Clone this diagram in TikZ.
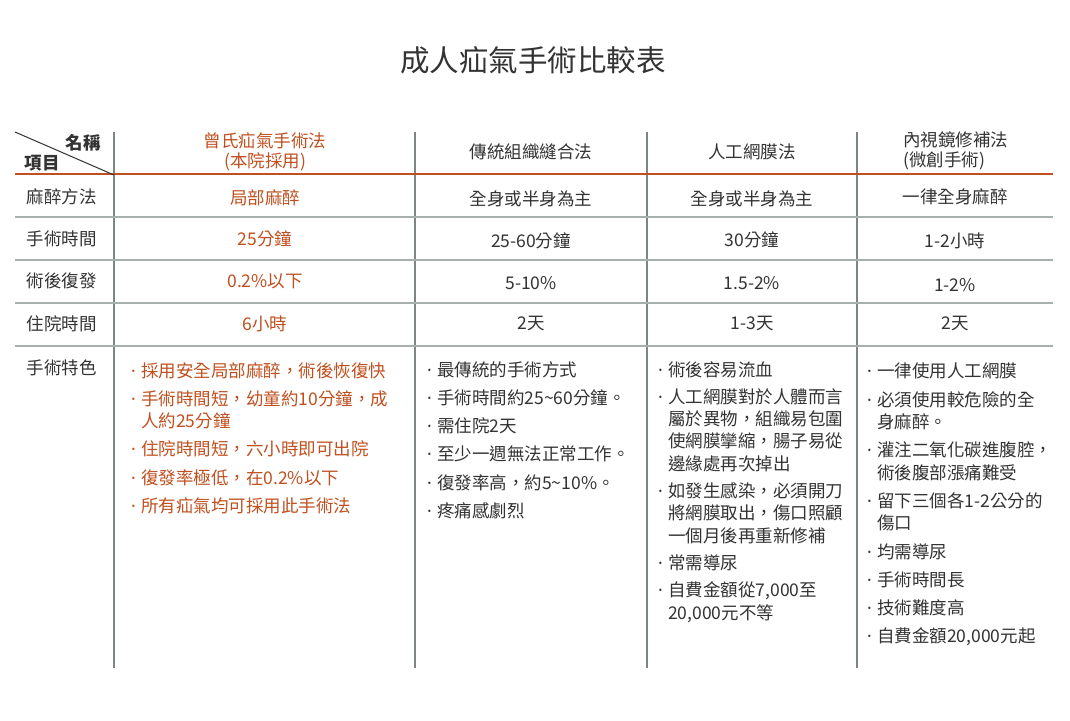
\documentclass[tikz,border=0pt]{standalone}
\usepackage{fontspec}
\setmainfont{Noto Sans CJK TC}
\newfontfamily\latinfont{Noto Sans}
\usetikzlibrary{positioning}
\definecolor{hot}{HTML}{C0501F}
\definecolor{ink}{HTML}{333333}
\definecolor{rulegray}{HTML}{A9AFAF}
\definecolor{colgray}{HTML}{7D8585}
\tikzstyle{txt}=[inner sep=0pt,text=ink,font=\fontsize{17.5}{20}\selectfont]
\tikzstyle{hottxt}=[txt,text=hot]
\tikzstyle{list}=[txt,anchor=north west,align=left,font=\fontsize{17.5}{22.3}\selectfont]
\tikzstyle{hline}=[draw=rulegray,line width=2pt]
\tikzstyle{vline}=[draw=colgray,line width=1.2pt]
\newcommand*{\bul}{\makebox[10pt][l]{\latinfont ·}}
\newcommand*{\ind}{\hspace*{10pt}}

\begin{document}
\begin{tikzpicture}[x=1pt,y=-1pt]
  \useasboundingbox[fill=white] (0,0) rectangle (1070,720);
  % title
  \node[txt,font=\fontsize{29.5}{32}\selectfont] (title) at (533,60) {成人疝氣手術比較表};
  % grid
  \foreach \x in {114,415,647,857} {
    \draw[vline] (\x,132) -- (\x,668);
  }
  \foreach \y in {217,260,303,346} {
    \draw[hline] (15,\y) -- (1053,\y);
  }
  \draw[draw=hot,line width=2.5pt] (15,174) -- (1053,174);
  \draw[draw=ink,line width=1pt] (15,132) -- (114,175);
  % header row
  \node[txt,font=\fontsize{17.5}{20}\selectfont\bfseries] (name) at (83,143) {名稱};
  \node[txt,font=\fontsize{17.5}{20}\selectfont\bfseries] (item) at (42,163) {項目};
  \node[hottxt,align=center] (h1) at (265,152) {曾氏疝氣手術法\\(本院採用)};
  \node[txt] (h2) at (531,152) {傳統組織縫合法};
  \node[txt] (h3) at (752,152) {人工網膜法};
  \node[txt,anchor=west,align=left] (h4) at (903,151) {內視鏡修補法\\(微創手術)};
  % row labels
  \foreach \lbl/\y [count=\i] in {麻醉方法/197,手術時間/239,術後復發/281,住院時間/324,手術特色/368} {
    \node[txt] (row\i) at (62,\y) {\lbl};
  }
  % rows
  \node[hottxt] (c11) at (265,198) {局部麻醉};
  \node[txt] (c12) at (531,199) {全身或半身為主};
  \node[txt] (c13) at (752,199) {全身或半身為主};
  \node[txt] (c14) at (955,197) {一律全身麻醉};
  \node[hottxt] (c21) at (265,239) {25分鐘};
  \node[txt] (c22) at (531,241) {25-60分鐘};
  \node[txt] (c23) at (752,240) {30分鐘};
  \node[txt] (c24) at (955,241) {1-2小時};
  \node[hottxt] (c31) at (265,281) {0.2\%以下};
  \node[txt] (c32) at (531,283) {5-10\%};
  \node[txt] (c33) at (752,283) {1.5-2\%};
  \node[txt] (c34) at (955,285) {1-2\%};
  \node[hottxt] (c41) at (265,324) {6小時};
  \node[txt] (c42) at (531,324) {2天};
  \node[txt] (c43) at (752,324) {1-3天};
  \node[txt] (c44) at (955,324) {2天};
  % features
  \node[list,text=hot] (feat1) at (131,362) {\bul 採用安全局部麻醉，術後恢復快\\[6pt]
    \bul 手術時間短，幼童約10分鐘，成\\
    \ind 人約25分鐘\\[6pt]
    \bul 住院時間短，六小時即可出院\\[6pt]
    \bul 復發率極低，在0.2\%以下\\[6pt]
    \bul 所有疝氣均可採用此手術法};
  \node[list] (feat2) at (427,361) {\bul 最傳統的手術方式\\[6pt]
    \bul 手術時間約25\textasciitilde60分鐘。\\[6pt]
    \bul 需住院2天\\[6pt]
    \bul 至少一週無法正常工作。\\[6pt]
    \bul 復發率高，約5\textasciitilde10\%。\\[6pt]
    \bul 疼痛感劇烈};
  \node[list] (feat3) at (658,361) {\bul 術後容易流血\\[5pt]
    \bul 人工網膜對於人體而言\\
    \ind 屬於異物，組織易包圍\\
    \ind 使網膜攣縮，腸子易從\\
    \ind 邊緣處再次掉出\\[5pt]
    \bul 如發生感染，必須開刀\\
    \ind 將網膜取出，傷口照顧\\
    \ind 一個月後再重新修補\\[5pt]
    \bul 常需導尿\\[5pt]
    \bul 自費金額從7,000至\\
    \ind 20,000元不等};
  \node[list] (feat4) at (867,363) {\bul 一律使用人工網膜\\[6pt]
    \bul 必須使用較危險的全\\
    \ind 身麻醉。\\[6pt]
    \bul 灌注二氧化碳進腹腔，\\
    \ind 術後腹部漲痛難受\\[6pt]
    \bul 留下三個各1-2公分的\\
    \ind 傷口\\[6pt]
    \bul 均需導尿\\[6pt]
    \bul 手術時間長\\[6pt]
    \bul 技術難度高\\[6pt]
    \bul 自費金額20,000元起};
\end{tikzpicture}
\end{document}
